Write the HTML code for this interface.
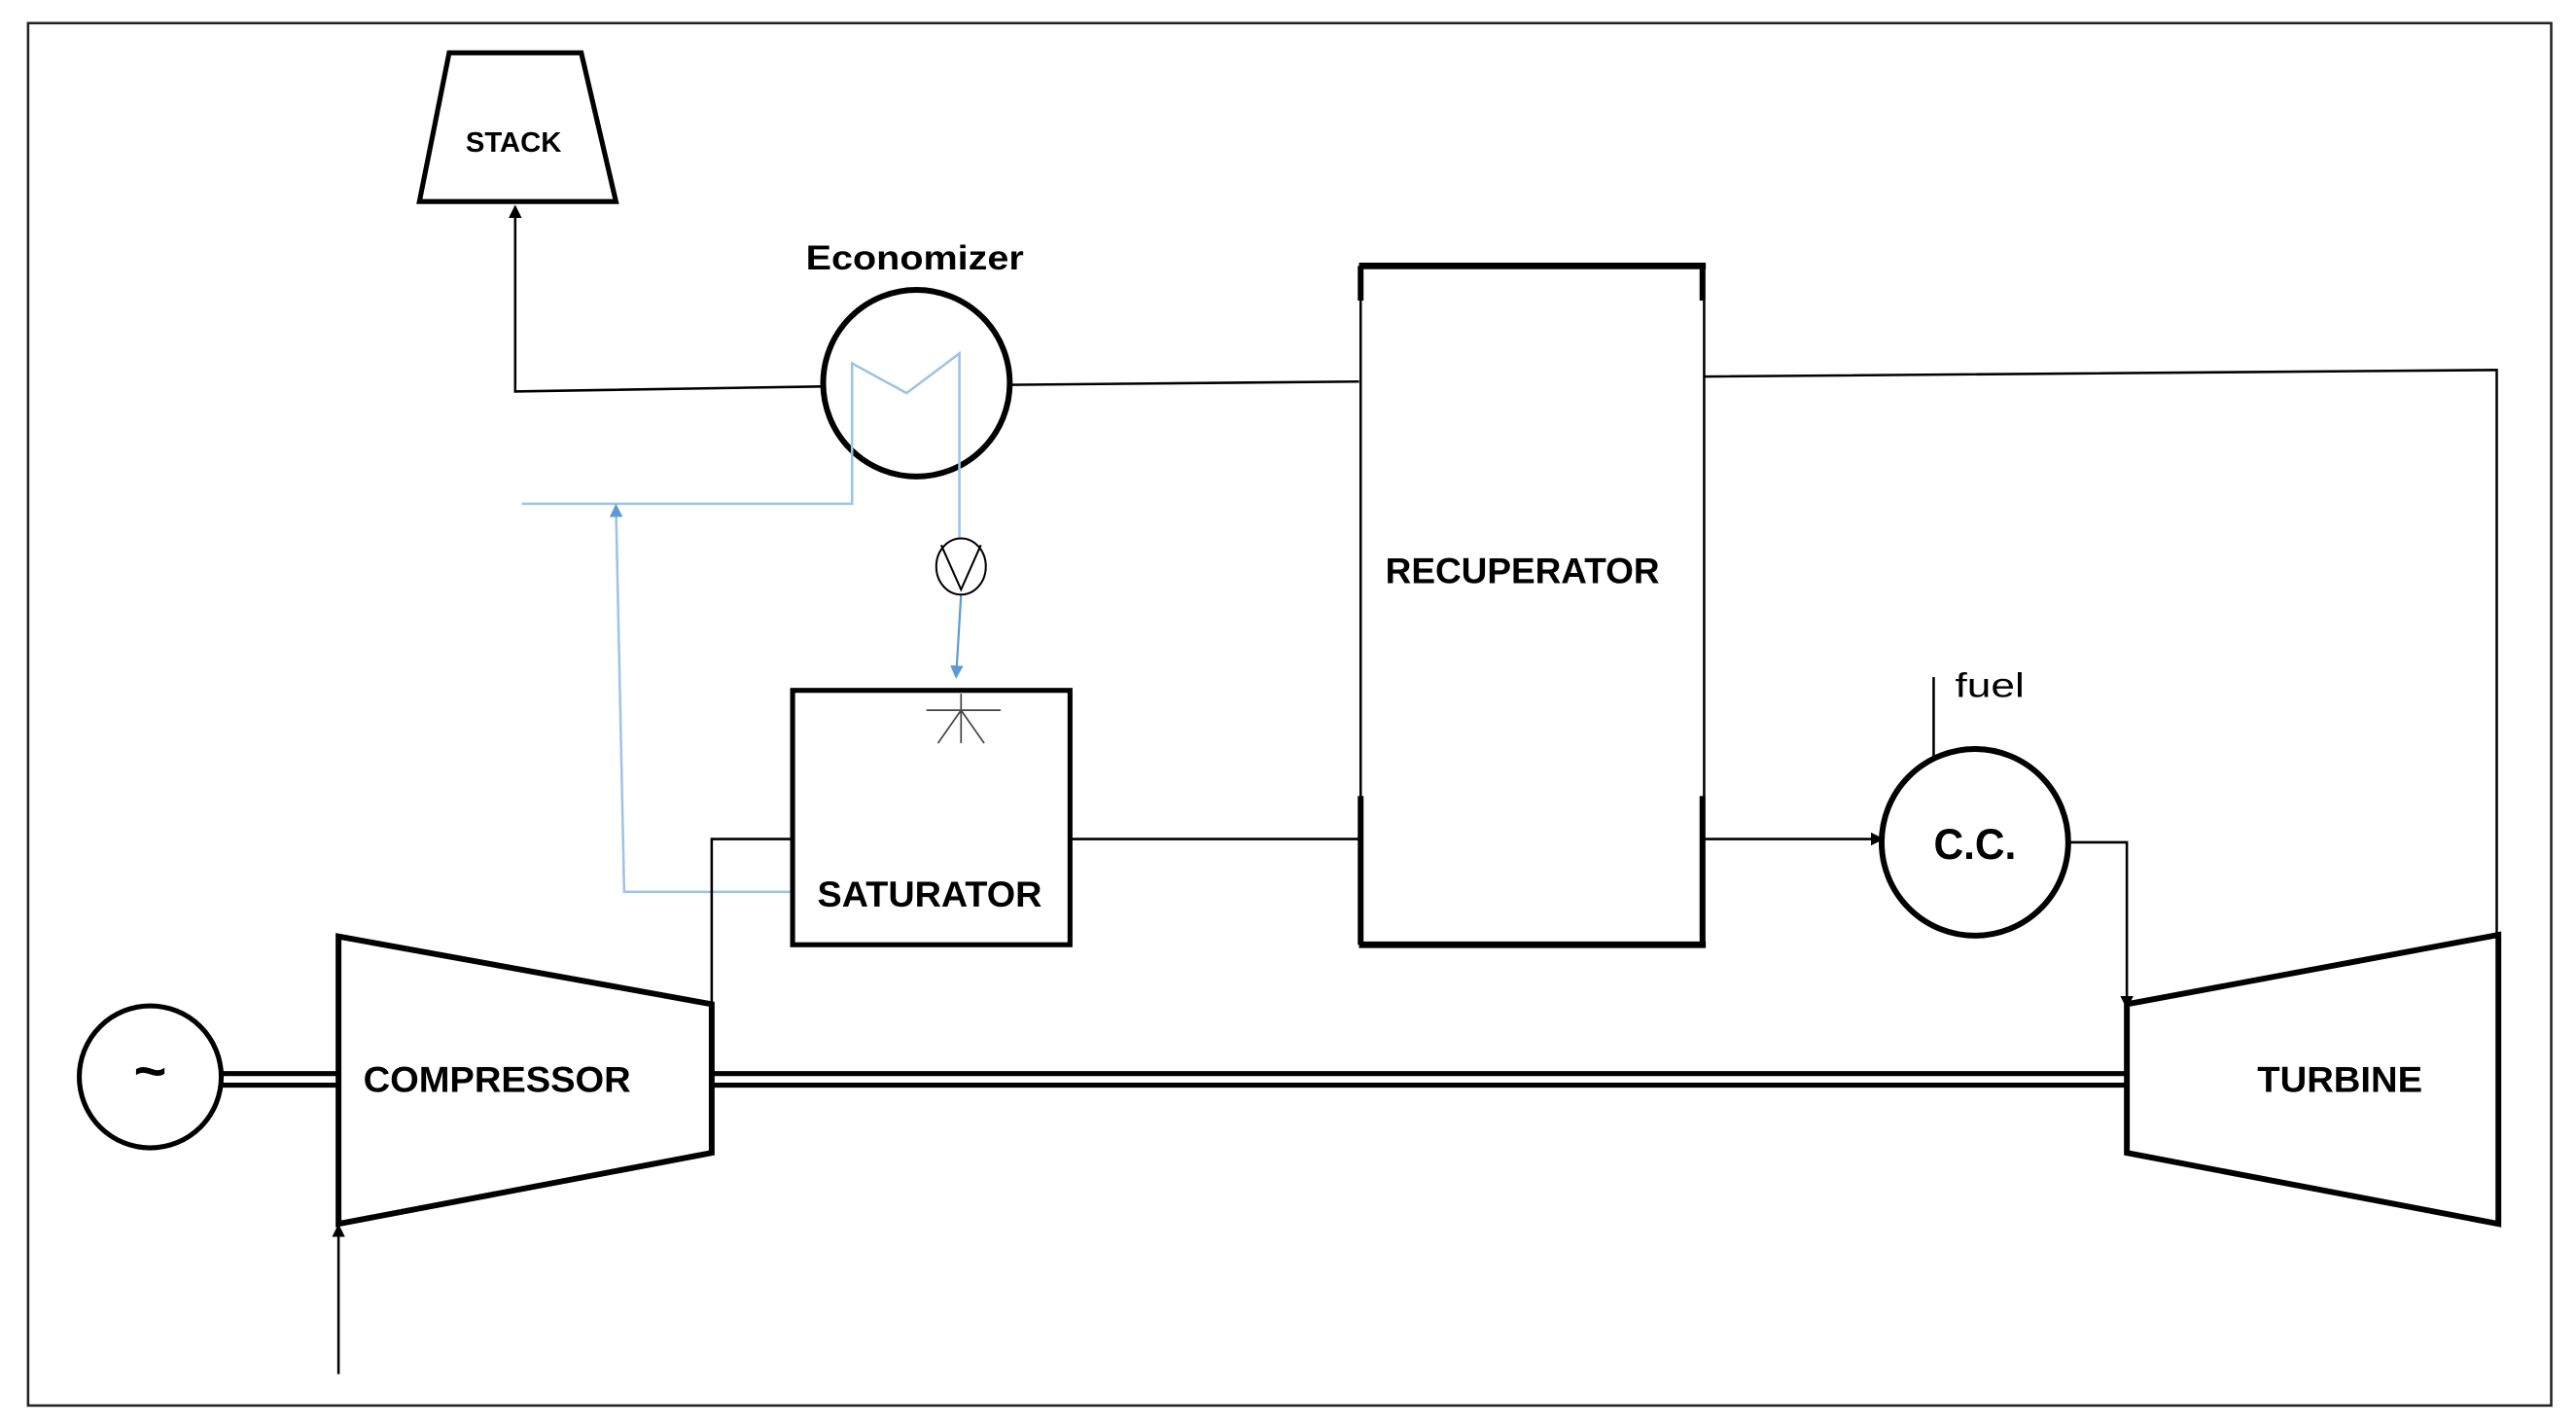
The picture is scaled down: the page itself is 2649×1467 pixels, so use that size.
<!DOCTYPE html>
<html><head><meta charset="utf-8"><style>html,body{margin:0;padding:0;background:#fff}svg{display:block}</style></head>
<body>
<svg width="2649" height="1467" viewBox="0 0 1560 864" preserveAspectRatio="none" xmlns="http://www.w3.org/2000/svg" font-family="Liberation Sans, sans-serif">
<defs>
<marker id="ak" markerWidth="8" markerHeight="8" refX="7" refY="4" orient="auto" markerUnits="userSpaceOnUse"><path d="M0,0 L8,4 L0,8 z" fill="#000"/></marker>
<marker id="ab" markerWidth="8" markerHeight="8" refX="7" refY="4" orient="auto" markerUnits="userSpaceOnUse"><path d="M0,0 L8,4 L0,8 z" fill="#5b9bd5"/></marker>
</defs>
<rect x="17" y="14" width="1528" height="837" fill="none" stroke="#222" stroke-width="1.5"/>
<!-- stack -->
<polygon points="272,32 352,32 373,122 254,122" fill="none" stroke="#000" stroke-width="3"/>
<text x="311" y="92" font-size="17" font-weight="bold" text-anchor="middle" textLength="58" lengthAdjust="spacingAndGlyphs">STACK</text>
<polyline points="498,234 312,237 312,125" fill="none" stroke="#000" stroke-width="1.5" marker-end="url(#ak)"/>
<!-- economizer -->
<text x="554" y="163" font-size="21" font-weight="bold" text-anchor="middle" textLength="132" lengthAdjust="spacingAndGlyphs">Economizer</text>
<circle cx="555" cy="232" r="56.5" fill="none" stroke="#000" stroke-width="3.5"/>
<line x1="612" y1="233" x2="823" y2="231" stroke="#000" stroke-width="1.5"/>
<!-- blue water -->
<polyline points="316,305 516,305 516,220 549,238 581,214 581,330" fill="none" stroke="#9dc3e6" stroke-width="1.5"/>
<polyline points="582,360 579,410" fill="none" stroke="#5b9bd5" stroke-width="1.3" marker-end="url(#ab)"/>
<polyline points="479,540 378,540 373,306" fill="none" stroke="#9dc3e6" stroke-width="1.5" marker-end="url(#ab)"/>
<ellipse cx="582" cy="343" rx="15" ry="17" fill="#fff" stroke="#000" stroke-width="1.2"/>
<polyline points="570,330 582,357 594,330" fill="none" stroke="#000" stroke-width="1.2"/>
<!-- spray -->
<g stroke="#444" stroke-width="1"><line x1="561" y1="430" x2="606" y2="430"/><line x1="582" y1="420" x2="582" y2="450"/><line x1="582" y1="430" x2="568" y2="450"/><line x1="582" y1="430" x2="596" y2="450"/></g>
<!-- saturator -->
<rect x="480" y="418" width="168" height="154" fill="none" stroke="#000" stroke-width="3"/>
<text x="563" y="549" font-size="22" font-weight="bold" text-anchor="middle" textLength="136" lengthAdjust="spacingAndGlyphs">SATURATOR</text>
<polyline points="480,508 431,508 431,608" fill="none" stroke="#000" stroke-width="1.5"/>
<line x1="648" y1="508" x2="823" y2="508" stroke="#000" stroke-width="1.5"/>
<!-- recuperator -->
<rect x="824" y="161" width="208" height="411" fill="none" stroke="#000" stroke-width="1.5"/>
<line x1="823" y1="161" x2="1033" y2="161" stroke="#000" stroke-width="4"/>
<line x1="823" y1="572" x2="1033" y2="572" stroke="#000" stroke-width="4"/>
<g stroke="#000" stroke-width="3.5"><line x1="824" y1="161" x2="824" y2="182"/><line x1="1031" y1="161" x2="1031" y2="182"/><line x1="824" y1="482" x2="824" y2="572"/><line x1="1031" y1="482" x2="1031" y2="572"/></g>
<text x="922" y="353" font-size="22" font-weight="bold" text-anchor="middle" textLength="166" lengthAdjust="spacingAndGlyphs">RECUPERATOR</text>
<polyline points="1032,228 1512,224 1512,567" fill="none" stroke="#000" stroke-width="1.5"/>
<line x1="1032" y1="508" x2="1140" y2="508" stroke="#000" stroke-width="1.5" marker-end="url(#ak)"/>
<!-- CC -->
<circle cx="1196" cy="510" r="56.5" fill="none" stroke="#000" stroke-width="3.5"/>
<text x="1196" y="520" font-size="26" font-weight="bold" text-anchor="middle" textLength="50" lengthAdjust="spacingAndGlyphs">C.C.</text>
<line x1="1171" y1="410" x2="1171" y2="460" stroke="#000" stroke-width="1.5"/>
<text x="1184" y="422" font-size="21" textLength="42" lengthAdjust="spacingAndGlyphs">fuel</text>
<polyline points="1253,510 1288,510 1288,610" fill="none" stroke="#000" stroke-width="1.5" marker-end="url(#ak)"/>
<!-- compressor / turbine -->
<polygon points="205,567 431,608 431,698 205,741" fill="none" stroke="#000" stroke-width="3.5"/>
<text x="301" y="661" font-size="22" font-weight="bold" text-anchor="middle" textLength="162" lengthAdjust="spacingAndGlyphs">COMPRESSOR</text>
<polygon points="1288,608 1513,566 1513,741 1288,698" fill="none" stroke="#000" stroke-width="3.5"/>
<text x="1417" y="661" font-size="22" font-weight="bold" text-anchor="middle" textLength="100" lengthAdjust="spacingAndGlyphs">TURBINE</text>
<!-- shaft -->
<g stroke="#000" stroke-width="3"><line x1="431" y1="650" x2="1288" y2="650"/><line x1="431" y1="657" x2="1288" y2="657"/><line x1="134" y1="650" x2="205" y2="650"/><line x1="134" y1="657" x2="205" y2="657"/></g>
<circle cx="91" cy="652" r="43" fill="#fff" stroke="#000" stroke-width="3"/>
<text x="91" y="660" font-size="34" font-weight="bold" text-anchor="middle">~</text>
<line x1="205" y1="832" x2="205" y2="742" stroke="#000" stroke-width="1.5" marker-end="url(#ak)"/>
</svg>
</body></html>
